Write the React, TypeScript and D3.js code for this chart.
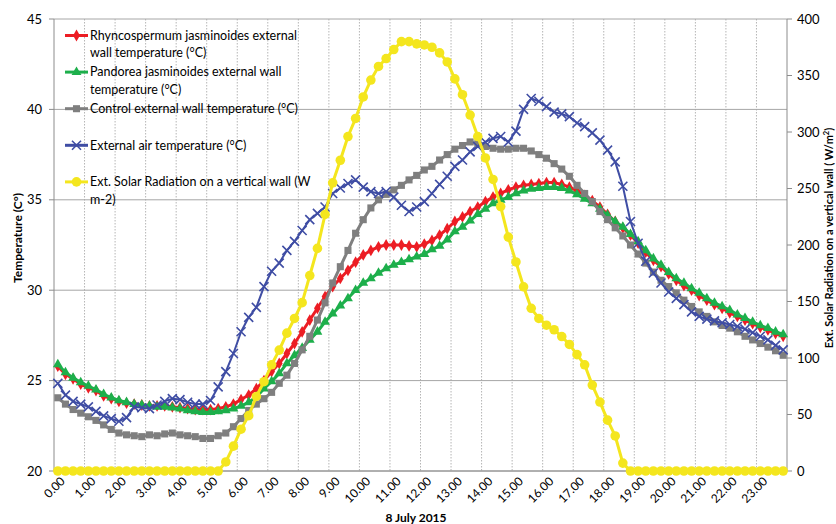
import * as d3 from "d3";

// hourly tick labels on the category axis (every 4th category)
const hourLabels = [
  "0.00", "1.00", "2.00", "3.00", "4.00", "5.00", "6.00", "7.00",
  "8.00", "9.00", "10.00", "11.00", "12.00", "13.00", "14.00", "15.00",
  "16.00", "17.00", "18.00", "19.00", "20.00", "21.00", "22.00", "23.00",
];
const quarters = ["00", "15", "30", "45"];
const times = hourLabels.flatMap((h) => quarters.map((q) => h.replace(".00", "." + q)));

// °C, 15 min readings on 8 July 2015
const rhyncospermum = [
  25.8, 25.35, 25.1, 24.8, 24.6, 24.45, 24.15, 24.0, 23.85, 23.75, 23.7, 23.65,
  23.6, 23.6, 23.6, 23.55, 23.5, 23.45, 23.4, 23.4, 23.4, 23.45, 23.55, 23.7,
  23.95, 24.2, 24.55, 25.0, 25.5, 25.95, 26.5, 27.05, 27.7, 28.35, 29.0, 29.65,
  30.2, 30.65, 31.1, 31.55, 31.95, 32.2, 32.4, 32.5, 32.5, 32.5, 32.45, 32.4,
  32.55, 32.75, 33.05, 33.4, 33.8, 34.05, 34.35, 34.6, 34.9, 35.15, 35.35, 35.55,
  35.7, 35.8, 35.85, 35.9, 35.95, 35.95, 35.85, 35.7, 35.5, 35.25, 34.95, 34.6,
  34.2, 33.8, 33.45, 33.05, 32.6, 32.1, 31.65, 31.3, 30.9, 30.55, 30.25, 30.0,
  29.7, 29.45, 29.2, 29.0, 28.75, 28.55, 28.35, 28.15, 27.95, 27.8, 27.6, 27.45,
];
const pandorea = [
  25.9, 25.45, 25.15, 24.9, 24.7, 24.5, 24.25, 24.05, 23.9, 23.8, 23.7, 23.65,
  23.6, 23.55, 23.55, 23.5, 23.45, 23.35, 23.3, 23.25, 23.25, 23.3, 23.35, 23.45,
  23.6, 23.8, 24.1, 24.55, 24.95, 25.4, 25.95, 26.4, 26.8, 27.25, 27.7, 28.25,
  28.7, 29.15, 29.55, 30.0, 30.4, 30.65, 30.95, 31.2, 31.4, 31.55, 31.7, 31.85,
  32.0, 32.25, 32.45, 32.8, 33.25, 33.5, 33.85, 34.2, 34.5, 34.8, 35.0, 35.15,
  35.35, 35.5, 35.6, 35.65, 35.7, 35.7, 35.65, 35.5, 35.3, 35.05, 34.8, 34.5,
  34.15, 33.8, 33.5, 33.1, 32.7, 32.2, 31.75, 31.4, 31.0, 30.65, 30.4, 30.1,
  29.85, 29.55, 29.3, 29.1, 28.9, 28.65, 28.45, 28.25, 28.05, 27.9, 27.7, 27.55,
];
const control = [
  24.05, 23.7, 23.4, 23.2, 23.0, 22.8, 22.55, 22.3, 22.1, 22.0, 21.95, 21.9,
  22.0, 21.95, 22.05, 22.1, 22.0, 21.95, 21.9, 21.8, 21.8, 21.95, 22.1, 22.45,
  22.9, 23.35, 23.7, 24.0, 24.35, 24.85, 25.3, 25.95, 26.7, 27.45, 28.35, 29.3,
  30.4, 31.3, 32.2, 33.15, 33.9, 34.55, 35.0, 35.3, 35.55, 35.8, 36.1, 36.35,
  36.65, 36.85, 37.2, 37.5, 37.8, 38.0, 38.2, 38.1, 37.95, 37.85, 37.8, 37.8,
  37.85, 37.85, 37.7, 37.5, 37.3, 37.0, 36.7, 36.3, 35.8, 35.35, 34.9, 34.35,
  33.9, 33.45, 33.0, 32.5, 32.0, 31.5, 31.0, 30.55, 30.2, 29.85, 29.45, 29.1,
  28.8, 28.55, 28.25, 28.05, 27.9, 27.7, 27.45, 27.25, 27.05, 26.85, 26.65, 26.4,
];
const airTemp = [
  24.85, 24.2, 23.85, 23.7, 23.55, 23.3, 23.05, 22.9, 22.75, 22.95, 23.55, 23.5,
  23.45, 23.65, 23.85, 24.0, 23.95, 23.8, 23.7, 23.7, 23.9, 24.65, 25.5, 26.5,
  27.7, 28.5, 29.05, 30.2, 31.05, 31.5, 32.2, 32.7, 33.3, 33.9, 34.25, 34.6,
  35.35, 35.65, 35.9, 36.1, 35.7, 35.45, 35.35, 35.45, 35.15, 34.7, 34.35, 34.6,
  34.9, 35.35, 35.85, 36.3, 36.85, 37.2, 37.65, 37.95, 38.2, 38.4, 38.5, 38.2,
  38.8, 40.0, 40.6, 40.45, 40.15, 39.85, 39.75, 39.6, 39.25, 39.05, 38.7, 38.3,
  37.75, 37.1, 35.75, 33.8, 32.6, 31.6, 30.95, 30.4, 29.9, 29.55, 29.2, 28.8,
  28.55, 28.4, 28.3, 28.2, 28.1, 28.0, 27.85, 27.65, 27.45, 27.25, 26.95, 26.7,
];
// W/m2
const solar = [
  0, 0, 0, 0, 0, 0, 0, 0, 0, 0, 0, 0,
  0, 0, 0, 0, 0, 0, 0, 0, 0, 0, 8, 22,
  37, 49, 66, 79, 94, 107, 122, 135, 149, 173, 197, 227,
  255, 275, 296, 312, 331, 346, 358, 365, 373, 380, 380, 378,
  377, 375, 370, 362, 347, 333, 315, 296, 277, 258, 234, 207,
  185, 163, 144, 135, 129, 125, 119, 112, 103, 94, 76, 61,
  45, 31, 7, 0, 0, 0, 0, 0, 0, 0, 0, 0,
  0, 0, 0, 0, 0, 0, 0, 0, 0, 0, 0, 0,
];

const tempTicks = [20, 25, 30, 35, 40, 45];
const solarTicks = [0, 50, 100, 150, 200, 250, 300, 350, 400];

const W = 836;
const H = 524;
const left = 54;
const right = 787;
const top = 19;
const bottom = 471;
const FONT = "Lato, 'Open Sans', sans-serif";

const xBand = d3.scaleBand<string>().domain(times).range([left, right]);
const xPt = d3.scalePoint<string>().domain(times).range([left, right]).padding(0.5);
const yTemp = d3.scaleLinear().domain([20, 45]).range([bottom, top]);
const ySolar = d3.scaleLinear().domain([0, 400]).range([bottom, top]);

type Marker = "diamond" | "triangle" | "square" | "x" | "circle";

const series = [
  { name: "r", values: rhyncospermum, y: yTemp, color: "#EC1D24", marker: "diamond" as Marker, width: 3 },
  { name: "p", values: pandorea, y: yTemp, color: "#1DAF4B", marker: "triangle" as Marker, width: 3 },
  { name: "c", values: control, y: yTemp, color: "#7F7F7F", marker: "square" as Marker, width: 3 },
  { name: "a", values: airTemp, y: yTemp, color: "#3F4DA4", marker: "x" as Marker, width: 2 },
  { name: "s", values: solar, y: ySolar, color: "#F4E61E", marker: "circle" as Marker, width: 3 },
];

const legendItems = [
  { lines: ["Rhyncospermum jasminoides external", "wall temperature (°C)"], color: "#EC1D24", marker: "diamond" as Marker },
  { lines: ["Pandorea jasminoides external wall", "temperature (°C)"], color: "#1DAF4B", marker: "triangle" as Marker },
  { lines: ["Control external wall temperature (°C)"], color: "#7F7F7F", marker: "square" as Marker },
  { lines: ["External air temperature (°C)"], color: "#3F4DA4", marker: "x" as Marker },
  { lines: ["Ext. Solar Radiation on a vertical wall (W", "m-2)"], color: "#F4E61E", marker: "circle" as Marker },
];

const symbols = {
  diamond: d3.symbol().type(d3.symbolDiamond).size(40)(),
  triangle: d3.symbol().type(d3.symbolTriangle).size(42)(),
  square: d3.symbol().type(d3.symbolSquare).size(50)(),
  circle: d3.symbol().type(d3.symbolCircle).size(72)(),
};

function MarkerShape({ type, x, y, color }: { type: Marker; x: number; y: number; color: string }) {
  if (type === "x") {
    const s = 4.5;
    return (
      <path
        d={`M${x - s},${y - s}L${x + s},${y + s}M${x - s},${y + s}L${x + s},${y - s}`}
        stroke={color}
        strokeWidth={1.6}
        fill="none"
      />
    );
  }
  return <path d={symbols[type] as string} transform={`translate(${x},${y})`} fill={color} />;
}

export default function App() {
  const line = (vals: number[], y: d3.ScaleLinear<number, number>) =>
    d3
      .line<number>()
      .x((_, i) => xPt(times[i]) as number)
      .y((d) => y(d))(vals) as string;

  const gridX = hourLabels.slice(1).map((_, k) => xBand(times[(k + 1) * 4]) as number);

  return (
    <svg
      width={W}
      height={H}
      style={{ position: "absolute", left: 0, top: 0, background: "#fff" }}
      fontFamily={FONT}
    >
      {/* vertical gridlines */}
      {gridX.map((x, i) => (
        <line key={"gx" + i} x1={x} x2={x} y1={top} y2={bottom} stroke="#b5b5b5" strokeWidth={1} strokeDasharray="1.5,1.5" />
      ))}
      {/* horizontal gridlines */}
      {tempTicks.map((t) => (
        <line key={"gy" + t} x1={left} x2={right} y1={yTemp(t)} y2={yTemp(t)} stroke="#a6a6a6" strokeWidth={1} />
      ))}

      {/* axes */}
      <line x1={left} x2={left} y1={top} y2={bottom} stroke="#8c8c8c" />
      <line x1={right} x2={right} y1={top} y2={bottom} stroke="#8c8c8c" />
      <line x1={left} x2={right} y1={bottom} y2={bottom} stroke="#8c8c8c" />
      {tempTicks.map((t) => (
        <g key={"lt" + t}>
          <line x1={left - 5} x2={left} y1={yTemp(t)} y2={yTemp(t)} stroke="#8c8c8c" />
          <text x={left - 12} y={yTemp(t)} dy="0.35em" textAnchor="end" fontSize={13} fill="#000">
            {t}
          </text>
        </g>
      ))}
      {solarTicks.map((t) => (
        <g key={"rt" + t}>
          <line x1={right} x2={right + 5} y1={ySolar(t)} y2={ySolar(t)} stroke="#8c8c8c" />
          <text x={right + 10} y={ySolar(t)} dy="0.35em" textAnchor="start" fontSize={13} fill="#000">
            {t}
          </text>
        </g>
      ))}
      {hourLabels.map((h, k) => {
        const x = (xPt(times[k * 4]) as number) + 5;
        const y = bottom + 8;
        return (
          <text key={"xl" + h} x={x} y={y} transform={`rotate(-45,${x},${y})`} textAnchor="end" dy="0.35em" fontSize={12} fill="#000">
            {h}
          </text>
        );
      })}

      {/* series */}
      {series.map((s) => (
        <g key={s.name}>
          <path d={line(s.values, s.y)} fill="none" stroke={s.color} strokeWidth={s.width} strokeLinejoin="round" />
          {s.values.map((v, i) => (
            <MarkerShape key={i} type={s.marker} x={xPt(times[i]) as number} y={s.y(v)} color={s.color} />
          ))}
        </g>
      ))}

      {/* legend */}
      {legendItems.map((it, i) => {
        const yy = 35.5 + i * 36.6;
        return (
          <g key={"lg" + i}>
            <line x1={65} x2={88} y1={yy} y2={yy} stroke={it.color} strokeWidth={3} />
            <MarkerShape type={it.marker} x={76.5} y={yy} color={it.color} />
            {it.lines.map((ln, j) => (
              <text key={j} x={90} y={yy + j * 17.5} dy="0.35em" fontSize={12.5} fill="#000">
                {ln}
              </text>
            ))}
          </g>
        );
      })}

      {/* axis titles */}
      <text x={416} y={518} dy="0.35em" textAnchor="middle" fontSize={12} fontWeight="bold" fill="#000">
        8 July 2015
      </text>
      <text transform={`translate(18,238) rotate(-90)`} textAnchor="middle" dy="0.35em" fontSize={12} fontWeight="bold" fill="#000">
        Temperature (C°)
      </text>
      <text transform={`translate(829,238) rotate(-90)`} textAnchor="middle" dy="0.35em" fontSize={11} fontWeight="bold" fill="#000">
        Ext. Solar Radiation on a vertical wall ( W/m<tspan baselineShift="super" fontSize={7.5}>2</tspan>)
      </text>
    </svg>
  );
}
